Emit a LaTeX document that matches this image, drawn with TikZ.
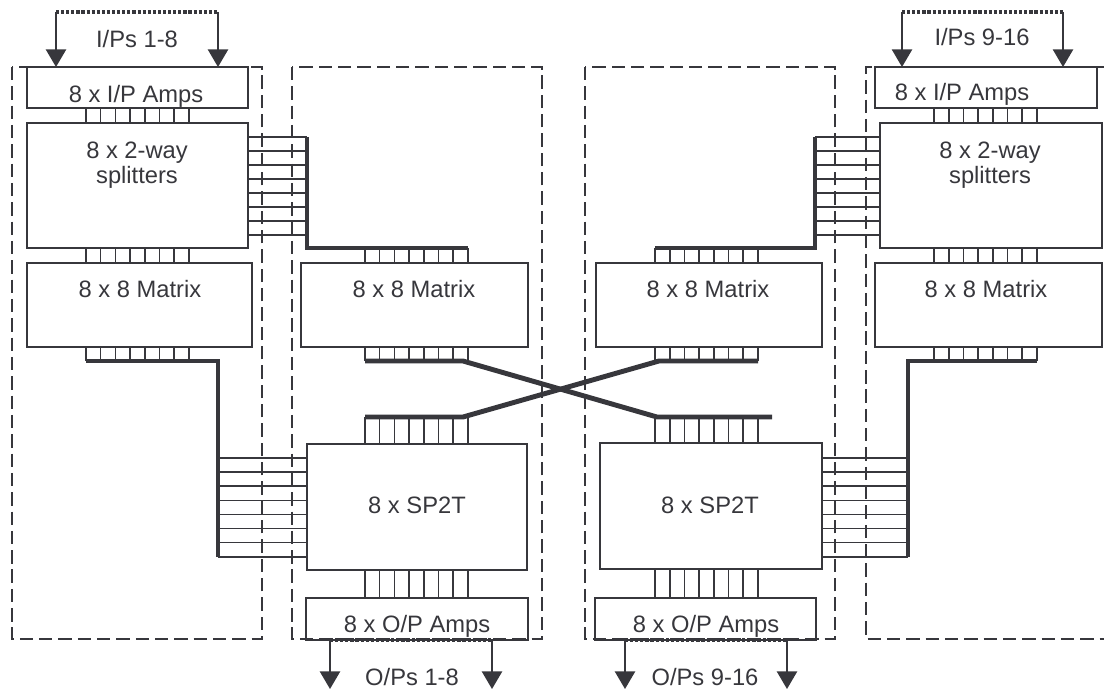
\documentclass[tikz,border=0pt]{standalone}
\usepackage{fontspec}
\setmainfont{Liberation Sans}
\usetikzlibrary{arrows.meta, fit, calc}
\definecolor{ink}{RGB}{55,55,60}

\begin{document}
\begin{tikzpicture}[x=0.02cm,y=-0.02cm,font=\fontsize{13.5}{16}\selectfont,
  blk/.style={draw=ink,line width=0.9pt,inner sep=0pt,outer sep=0pt},
  txt/.style={text=ink,inner sep=0pt,anchor=base},
  wire/.style={draw=ink,line width=0.9pt},
  bus/.style={draw=ink,line width=2.8pt,line join=miter},
  frame/.style={draw=ink,line width=1.4pt,dash pattern=on 7.6pt off 3.4pt},
  dots/.style={draw=ink,line width=1.8pt,dash pattern=on 1.8pt off 1.1pt},
  arr/.style={draw=ink,line width=0.9pt,-{Triangle[length=10pt,width=11.5pt]}}]
\useasboundingbox (0,0) rectangle (1104,690);
\pgfmathsetmacro{\dx}{14.7}
\pgfmathsetmacro{\dy}{14.1}

% dashed frames round the four columns
\draw[frame] (12,67) rectangle (262,639);
\draw[frame] (292,67) rectangle (542,639);
\draw[frame] (585,67) rectangle (835,639);
\draw[frame] (1104,67) -- (866,67) -- (866,639) -- (1104,639);

% blocks
\node[blk,fit={(27,67) (248,108)}] (amp1) {};
\node[blk,fit={(27,123) (248,248)}] (spl1) {};
\node[blk,fit={(27,263) (252,347)}] (mat1) {};
\node[blk,fit={(301,263) (528,347)}] (mat2) {};
\node[blk,fit={(307,444) (527,570)}] (sw2) {};
\node[blk,fit={(306,598) (528,640)}] (opa2) {};
\node[blk,fit={(596,263) (822,347)}] (mat3) {};
\node[blk,fit={(600,443) (822,569)}] (sw3) {};
\node[blk,fit={(595,598) (816,640)}] (opa3) {};
\node[blk,fit={(875,67) (1097,108)}] (amp4) {};
\node[blk,fit={(880,123) (1102,248)}] (spl4) {};
\node[blk,fit={(875,263) (1102,347)}] (mat4) {};

% corners of the thick buses
\coordinate (ba1) at (307,137); \coordinate (ba2) at (307,248); \coordinate (ba3) at (468,248);
\coordinate (bb1) at (86,361);  \coordinate (bb2) at (218,361); \coordinate (bb3) at (218,557);
\coordinate (bc1) at (815,137); \coordinate (bc2) at (815,248); \coordinate (bc3) at (655,248);
\coordinate (bd1) at (1037,361); \coordinate (bd2) at (908,361); \coordinate (bd3) at (908,557);
\coordinate (be1) at (365,361); \coordinate (be2) at (463,361); \coordinate (be3) at (657,417); \coordinate (be4) at (772,417);
\coordinate (bf1) at (758,361); \coordinate (bf2) at (659,361); \coordinate (bf3) at (463,417); \coordinate (bf4) at (365,417);

% eight lines between blocks
\foreach \i in {0,...,7} {
  \pgfmathsetmacro{\xa}{86+\dx*\i}
  \pgfmathsetmacro{\xb}{365+\dx*\i}
  \pgfmathsetmacro{\xc}{655+\dx*\i}
  \pgfmathsetmacro{\xd}{934+\dx*\i}
  \draw[wire] (\xa,0 |- amp1.south) -- (\xa,0 |- spl1.north);
  \draw[wire] (\xa,0 |- spl1.south) -- (\xa,0 |- mat1.north);
  \draw[wire] (\xa,0 |- mat1.south) -- (\xa,0 |- bb1);
  \draw[wire] (\xb,0 |- ba2) -- (\xb,0 |- mat2.north);
  \draw[wire] (\xb,0 |- mat2.south) -- (\xb,0 |- be1);
  \draw[wire] (\xb,0 |- bf4) -- (\xb,0 |- sw2.north);
  \draw[wire] (\xb,0 |- sw2.south) -- (\xb,0 |- opa2.north);
  \draw[wire] (\xc,0 |- bc3) -- (\xc,0 |- mat3.north);
  \draw[wire] (\xc,0 |- mat3.south) -- (\xc,0 |- bf2);
  \draw[wire] (\xc,0 |- be3) -- (\xc,0 |- sw3.north);
  \draw[wire] (\xc,0 |- sw3.south) -- (\xc,0 |- opa3.north);
  \draw[wire] (\xd,0 |- amp4.south) -- (\xd,0 |- spl4.north);
  \draw[wire] (\xd,0 |- spl4.south) -- (\xd,0 |- mat4.north);
  \draw[wire] (\xd,0 |- mat4.south) -- (\xd,0 |- bd1);
  \pgfmathsetmacro{\ya}{137+14*\i}
  \pgfmathsetmacro{\yb}{458+\dy*\i}
  \draw[wire] (spl1.east |- 0,\ya) -- (ba1 |- 0,\ya);
  \draw[wire] (bc1 |- 0,\ya) -- (spl4.west |- 0,\ya);
  \draw[wire] (bb2 |- 0,\yb) -- (sw2.west |- 0,\yb);
  \draw[wire] (sw3.east |- 0,\yb) -- (bd2 |- 0,\yb);
}

% thick buses
\draw[bus] (ba1) -- (ba2) -- (ba3);
\draw[bus] (bb1) -- (bb2) -- (bb3);
\draw[bus] (bc1) -- (bc2) -- (bc3);
\draw[bus] (bd1) -- (bd2) -- (bd3);
\draw[bus] (be1) -- (be2) -- (be3) -- (be4);
\draw[bus] (bf1) -- (bf2) -- (bf3) -- (bf4);

% inputs and outputs
\coordinate (in1a) at (56,12);  \coordinate (in1b) at (218,12);
\coordinate (in4a) at (902,12); \coordinate (in4b) at (1063,12);
\coordinate (out2a) at (330,689); \coordinate (out2b) at (492,689);
\coordinate (out3a) at (625,689); \coordinate (out3b) at (787,689);
\draw[dots] (in1a) -- (in1b);
\draw[arr] (in1a) -- (in1a |- amp1.north);
\draw[arr] (in1b) -- (in1b |- amp1.north);
\draw[dots] (in4a) -- (in4b);
\draw[arr] (in4a) -- (in4a |- amp4.north);
\draw[arr] (in4b) -- (in4b |- amp4.north);
\draw[dots] (out2a |- opa2.south) -- (out2b |- opa2.south);
\draw[arr] (out2a |- opa2.south) -- (out2a);
\draw[arr] (out2b |- opa2.south) -- (out2b);
\draw[dots] (out3a |- opa3.south) -- (out3b |- opa3.south);
\draw[arr] (out3a |- opa3.south) -- (out3a);
\draw[arr] (out3b |- opa3.south) -- (out3b);

% texts
\node[txt] (t-in1) at (137,47) {I/Ps 1-8};
\node[txt] (t-in4) at (982,45) {I/Ps 9-16};
\node[txt] (t-amp1) at (136,102) {8 x I/P Amps};
\node[txt] (t-amp4) at (962,100) {8 x I/P Amps};
\node[txt] (t-spl1a) at (137,158) {8 x 2-way};
\node[txt] (t-spl1b) at (137,183) {splitters};
\node[txt] (t-spl4a) at (990,158) {8 x 2-way};
\node[txt] (t-spl4b) at (990,183) {splitters};
\node[txt] (t-mat1) at (140,297) {8 x 8 Matrix};
\node[txt] (t-mat2) at (414,297) {8 x 8 Matrix};
\node[txt] (t-mat3) at (708,297) {8 x 8 Matrix};
\node[txt] (t-mat4) at (986,297) {8 x 8 Matrix};
\node[txt] (t-sw2) at (417,513) {8 x SP2T};
\node[txt] (t-sw3) at (710,513) {8 x SP2T};
\node[txt] (t-opa2) at (417,632) {8 x O/P Amps};
\node[txt] (t-opa3) at (706,632) {8 x O/P Amps};
\node[txt] (t-out2) at (412,685) {O/Ps 1-8};
\node[txt] (t-out3) at (705,685) {O/Ps 9-16};
\end{tikzpicture}
\end{document}
